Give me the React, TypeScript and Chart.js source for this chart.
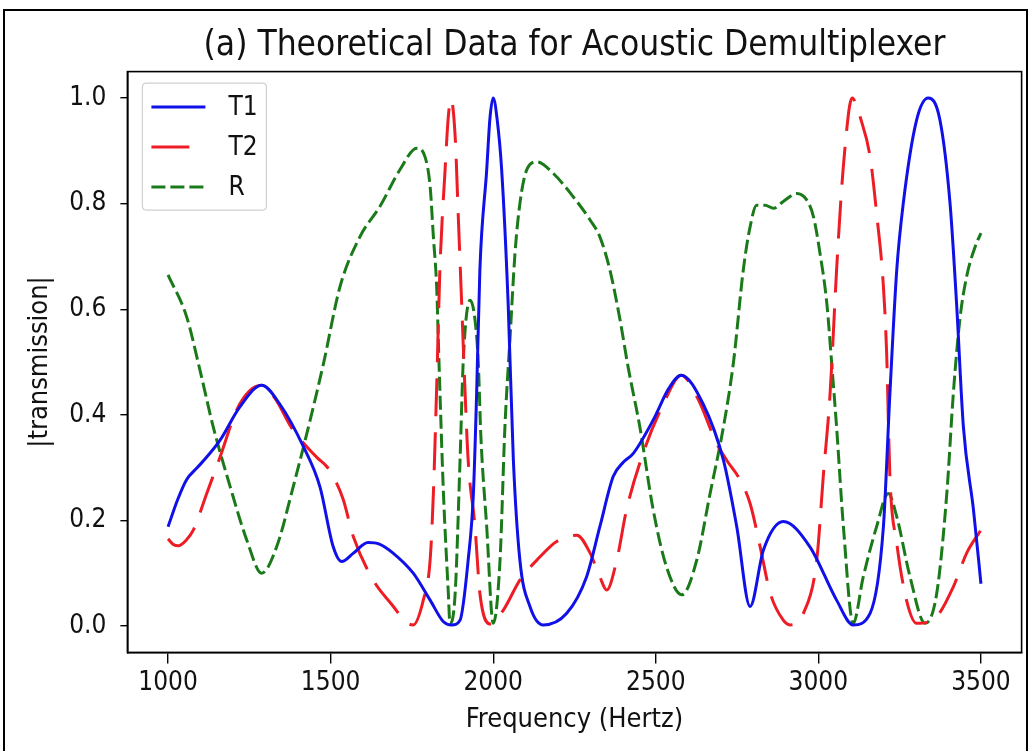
import React, { useEffect, useRef } from "react";
import { Chart, registerables } from "chart.js";

Chart.register(...registerables);

const FONT = "'DejaVu Sans Condensed', 'DejaVu Sans', sans-serif";

const titleText = "(a) Theoretical Data for Acoustic Demultiplexer";
const xLabel = "Frequency (Hertz)";
const yLabel = "|transmission|";
const seriesNames = ["T1", "T2", "R"];

const xTicks = [1000, 1500, 2000, 2500, 3000, 3500];
const yTicks = [0, 0.2, 0.4, 0.6, 0.8, 1.0];

const t1Freq = [1000, 1030, 1057, 1090, 1119, 1160, 1221, 1288, 1344, 1416, 1467, 1508, 1534, 1570, 1615, 1650, 1692, 1754, 1806, 1847, 1872, 1898, 1923, 1939, 1949, 1959, 1980, 1990, 2000, 2012, 2026, 2046, 2062, 2082, 2113, 2154, 2226, 2287, 2328, 2369, 2400, 2431, 2492, 2540, 2578, 2646, 2708, 2749, 2790, 2831, 2892, 2974, 3056, 3107, 3159, 3200, 3220, 3241, 3261, 3302, 3338, 3374, 3405, 3425, 3446, 3477, 3500];
const t1Val = [0.188, 0.24, 0.277, 0.3, 0.32, 0.352, 0.415, 0.456, 0.42, 0.34, 0.264, 0.15, 0.122, 0.138, 0.158, 0.155, 0.138, 0.1, 0.049, 0.008, 0.002, 0.011, 0.125, 0.25, 0.44, 0.674, 0.864, 0.962, 1.0, 0.96, 0.864, 0.61, 0.314, 0.125, 0.037, 0.002, 0.024, 0.093, 0.188, 0.283, 0.31, 0.327, 0.39, 0.45, 0.475, 0.42, 0.314, 0.188, 0.037, 0.144, 0.198, 0.15, 0.049, 0.002, 0.024, 0.188, 0.44, 0.674, 0.8, 0.958, 1.0, 0.958, 0.8, 0.611, 0.377, 0.22, 0.08];

const t2Freq = [1000, 1015, 1032, 1055, 1078, 1119, 1160, 1211, 1250, 1288, 1330, 1380, 1426, 1460, 1488, 1515, 1539, 1570, 1631, 1693, 1730, 1754, 1785, 1806, 1816, 1826, 1836, 1852, 1862, 1870, 1883, 1893, 1903, 1913, 1923, 1944, 1959, 1990, 2031, 2082, 2144, 2195, 2257, 2298, 2328, 2349, 2380, 2410, 2461, 2523, 2578, 2630, 2687, 2718, 2759, 2790, 2821, 2852, 2892, 2913, 2954, 2995, 3015, 3036, 3056, 3072, 3087, 3096, 3104, 3115, 3128, 3159, 3179, 3200, 3210, 3220, 3241, 3271, 3302, 3364, 3415, 3456, 3500];
const t2Val = [0.165, 0.155, 0.152, 0.162, 0.182, 0.251, 0.32, 0.409, 0.445, 0.456, 0.43, 0.375, 0.34, 0.318, 0.302, 0.275, 0.239, 0.169, 0.087, 0.037, 0.008, 0.002, 0.049, 0.125, 0.251, 0.45, 0.674, 0.864, 0.965, 0.998, 0.927, 0.769, 0.611, 0.45, 0.314, 0.188, 0.062, 0.004, 0.03, 0.087, 0.131, 0.16, 0.172, 0.138, 0.093, 0.068, 0.125, 0.22, 0.327, 0.42, 0.475, 0.43, 0.346, 0.314, 0.277, 0.232, 0.15, 0.062, 0.011, 0.002, 0.024, 0.125, 0.283, 0.44, 0.674, 0.832, 0.939, 0.985, 1.0, 0.99, 0.965, 0.889, 0.782, 0.643, 0.516, 0.283, 0.157, 0.049, 0.005, 0.018, 0.074, 0.138, 0.182];

const rFreq = [1000, 1057, 1098, 1139, 1191, 1242, 1288, 1334, 1385, 1437, 1478, 1529, 1590, 1652, 1713, 1765, 1790, 1806, 1816, 1826, 1834, 1847, 1862, 1867, 1883, 1898, 1908, 1929, 1944, 1954, 1962, 1980, 2000, 2021, 2036, 2052, 2067, 2082, 2103, 2134, 2185, 2246, 2298, 2328, 2359, 2390, 2415, 2451, 2492, 2533, 2580, 2626, 2667, 2708, 2739, 2769, 2790, 2810, 2836, 2862, 2892, 2933, 2964, 2985, 3005, 3026, 3041, 3056, 3077, 3107, 3138, 3179, 3215, 3241, 3282, 3328, 3364, 3395, 3415, 3435, 3456, 3482, 3500];
const rVal = [0.665, 0.586, 0.485, 0.377, 0.264, 0.163, 0.1, 0.15, 0.264, 0.39, 0.497, 0.643, 0.737, 0.795, 0.864, 0.905, 0.889, 0.832, 0.737, 0.643, 0.485, 0.251, 0.062, 0.005, 0.062, 0.314, 0.504, 0.617, 0.58, 0.5, 0.36, 0.188, 0.005, 0.125, 0.377, 0.548, 0.706, 0.8, 0.864, 0.879, 0.857, 0.813, 0.769, 0.737, 0.674, 0.58, 0.49, 0.377, 0.22, 0.112, 0.059, 0.125, 0.251, 0.377, 0.5, 0.674, 0.756, 0.797, 0.797, 0.791, 0.804, 0.819, 0.807, 0.775, 0.706, 0.611, 0.497, 0.377, 0.188, 0.005, 0.093, 0.188, 0.251, 0.207, 0.093, 0.005, 0.062, 0.251, 0.44, 0.58, 0.662, 0.718, 0.744];

const toPoints = (xs: number[], ys: number[]) => xs.map((x, i) => ({ x, y: ys[i] }));

const W = 1029;
const H = 751;

const frameBox = {
  id: "frameBox",
  afterDatasetsDraw(chart: any) {
    const { ctx, chartArea } = chart;
    const { left, top, right, bottom } = chartArea;
    ctx.save();
    ctx.strokeStyle = "#000";
    ctx.lineWidth = 1.6;
    ctx.strokeRect(left, top, right - left, bottom - top);
    ctx.restore();
  },
};

const legendBox = {
  id: "legendBox",
  afterDraw(chart: any) {
    const { ctx, chartArea } = chart;
    const bx = chartArea.left + 15;
    const by = chartArea.top + 11.5;
    const bw = 124;
    const bh = 127;
    const r = 4;
    ctx.save();
    ctx.beginPath();
    ctx.moveTo(bx + r, by);
    ctx.lineTo(bx + bw - r, by);
    ctx.quadraticCurveTo(bx + bw, by, bx + bw, by + r);
    ctx.lineTo(bx + bw, by + bh - r);
    ctx.quadraticCurveTo(bx + bw, by + bh, bx + bw - r, by + bh);
    ctx.lineTo(bx + r, by + bh);
    ctx.quadraticCurveTo(bx, by + bh, bx, by + bh - r);
    ctx.lineTo(bx, by + r);
    ctx.quadraticCurveTo(bx, by, bx + r, by);
    ctx.closePath();
    ctx.fillStyle = "rgba(255,255,255,0.85)";
    ctx.fill();
    ctx.strokeStyle = "#d0d0d0";
    ctx.lineWidth = 1.2;
    ctx.stroke();
    chart.data.datasets.forEach((ds: any, i: number) => {
      const y = by + 24 + i * 40;
      ctx.beginPath();
      ctx.setLineDash(ds.borderDash || []);
      ctx.strokeStyle = ds.borderColor;
      ctx.lineWidth = ds.borderWidth;
      ctx.moveTo(bx + 9, y);
      ctx.lineTo(bx + 63, y);
      ctx.stroke();
      ctx.setLineDash([]);
      ctx.fillStyle = "#111";
      ctx.font = `26px ${FONT}`;
      ctx.textAlign = "left";
      ctx.textBaseline = "middle";
      ctx.fillText(ds.label, bx + 86, y + 1);
    });
    ctx.restore();
  },
};

export default function App() {
  const ref = useRef<HTMLCanvasElement | null>(null);

  useEffect(() => {
    if (!ref.current) return;
    const chart = new Chart(ref.current, {
      type: "line",
      data: {
        datasets: [
          {
            label: seriesNames[0],
            data: toPoints(t1Freq, t1Val),
            borderColor: "#1010e8",
            borderWidth: 3,
            pointRadius: 0,
            cubicInterpolationMode: "monotone",
            fill: false,
          },
          {
            label: seriesNames[1],
            data: toPoints(t2Freq, t2Val),
            borderColor: "#ee1c24",
            borderWidth: 3,
            borderDash: [38, 16],
            pointRadius: 0,
            cubicInterpolationMode: "monotone",
            fill: false,
          },
          {
            label: seriesNames[2],
            data: toPoints(rFreq, rVal),
            borderColor: "#1a7a1a",
            borderWidth: 3,
            borderDash: [14, 5],
            pointRadius: 0,
            cubicInterpolationMode: "monotone",
            fill: false,
          },
        ],
      },
      options: {
        responsive: false,
        animation: false,
        devicePixelRatio: 1,
        layout: { padding: { left: 0, top: 0, right: W - 1021.6, bottom: 0 } },
        plugins: {
          legend: { display: false },
          tooltip: { enabled: false },
          title: {
            display: true,
            text: titleText,
            fullSize: false,
            color: "#111",
            font: { family: FONT, size: 35, weight: "normal", lineHeight: 1.2 },
            padding: { top: 25, bottom: 4.6 },
          },
        },
        scales: {
          x: {
            type: "linear",
            min: 875,
            max: 3625,
            afterBuildTicks: (scale: any) => {
              scale.ticks = xTicks.map((v) => ({ value: v }));
            },
            afterFit: (scale: any) => {
              scale.height = H - 652.4;
            },
            ticks: {
              autoSkip: false,
              maxRotation: 0,
              color: "#111",
              padding: 4,
              font: { family: FONT, size: 26, lineHeight: 1.2 },
              callback: (v: any) => String(v),
            },
            grid: { drawOnChartArea: false, drawTicks: true, tickLength: 11, color: "#000", lineWidth: 1.4 },
            border: { display: true, color: "#000", width: 1.6 },
            title: {
              display: true,
              text: xLabel,
              color: "#111",
              font: { family: FONT, size: 27, lineHeight: 1.2 },
              padding: { top: 0, bottom: 15 },
            },
          },
          y: {
            type: "linear",
            min: -0.05,
            max: 1.05,
            afterBuildTicks: (scale: any) => {
              scale.ticks = yTicks.map((v) => ({ value: v }));
            },
            afterFit: (scale: any) => {
              scale.width = 127.4;
            },
            ticks: {
              color: "#111",
              padding: 14,
              font: { family: FONT, size: 26, lineHeight: 1.2 },
              callback: (v: any) => Number(v).toFixed(1),
            },
            grid: { drawOnChartArea: false, drawTicks: true, tickLength: 7, color: "#000", lineWidth: 1.4 },
            border: { display: true, color: "#000", width: 1.6 },
            title: {
              display: true,
              text: yLabel,
              color: "#111",
              font: { family: FONT, size: 27, lineHeight: 1.2 },
              padding: { top: 24, bottom: 0 },
            },
          },
        },
      },
      plugins: [frameBox, legendBox],
    });
    return () => chart.destroy();
  }, []);

  return (
    <div style={{ position: "fixed", left: 0, top: 0, width: W, height: H, background: "#fff", overflow: "hidden" }}>
      <div
        style={{
          position: "absolute",
          left: 3,
          top: 9,
          width: 1025,
          height: 800,
          border: "2px solid #000",
          boxSizing: "border-box",
        }}
      />
      <canvas ref={ref} width={W} height={H} style={{ position: "absolute", left: 0, top: 0, width: W, height: H }} />
    </div>
  );
}
